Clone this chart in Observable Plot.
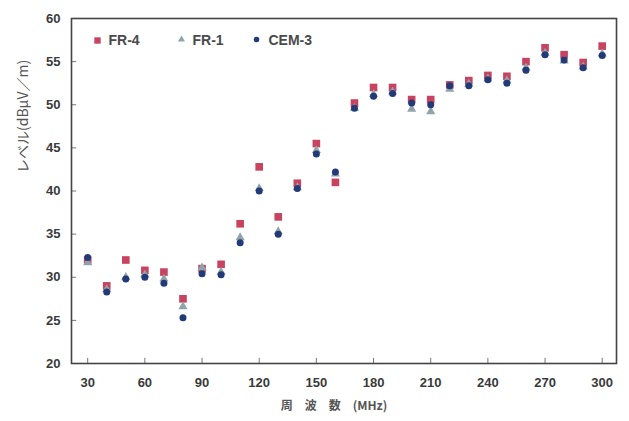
<!DOCTYPE html>
<html>
<head>
<meta charset="utf-8">
<script src="https://cdn.jsdelivr.net/npm/d3@7"></script>
<script src="https://cdn.jsdelivr.net/npm/@observablehq/plot@0.6"></script>
<style>
html,body{margin:0;padding:0;background:#fff;}
#chart{width:629px;height:421px;overflow:hidden;}
</style>
</head>
<body>
<div id="chart"></div>
<script>
const freqs = [30,40,50,60,70,80,90,100,110,120,130,140,150,160,170,180,190,200,210,220,230,240,250,260,270,280,290,300];
const fr4  = [32.0,29.0,32.0,30.8,30.6,27.5,31.0,31.5,36.2,42.8,37.0,40.9,45.5,41.0,50.2,52.0,52.0,50.6,50.6,52.3,52.8,53.4,53.3,55.0,56.6,55.8,54.9,56.8];
const fr1  = [31.7,28.6,30.0,30.3,29.8,26.6,31.1,30.6,34.6,40.3,35.3,40.4,44.7,42.0,49.6,51.2,51.5,49.5,49.2,51.8,52.4,53.0,52.8,54.3,56.0,55.1,54.4,55.9];
const cem3 = [32.3,28.3,29.8,30.0,29.3,25.3,30.4,30.3,34.0,40.0,35.0,40.3,44.3,42.2,49.6,51.0,51.3,50.2,50.0,52.2,52.2,52.9,52.5,54.0,55.8,55.2,54.3,55.7];
const xTicks = [30,60,90,120,150,180,210,240,270,300];
const yTicks = [20,25,30,35,40,45,50,55,60];
const seriesNames = ["FR-4","FR-1","CEM-3"];
const seriesColors = ["#c8435f","#8fa3ad","#233a78"];
const xLabel = "周　波　数　(MHz)";
const yLabel = "レベル(dBμV／m)";

const rows = (vals, name) => freqs.map((f,i)=>({f, v: vals[i], s: name}));
const d4 = rows(fr4, seriesNames[0]);
const d1 = rows(fr1, seriesNames[1]);
const d3 = rows(cem3, seriesNames[2]);

const tickFont = {fontFamily: "Liberation Sans, Arial, sans-serif", fontWeight: "bold", fontSize: 13, color: "#3a3a3a"};

const chart = Plot.plot({
  width: 629,
  height: 421,
  marginLeft: 71,
  marginRight: 13,
  marginTop: 18,
  marginBottom: 58,
  style: {background: "#fff", fontFamily: "Liberation Sans, Arial, sans-serif"},
  x: {domain: [21.5, 307.5]},
  y: {domain: [20, 60]},
  marks: [
    // inner ticks
    Plot.ruleX(xTicks, {x: d=>d, y1: 20, y2: 20.6, stroke: "#777", strokeWidth: 1}),
    Plot.ruleY(yTicks, {y: d=>d, x1: 21.5, x2: 24.2, stroke: "#777", strokeWidth: 1}),
    Plot.axisX(xTicks, {tickSize: 0, tickPadding: 14, ...tickFont, label: null}),
    Plot.axisY(yTicks, {tickSize: 0, tickPadding: 11, ...tickFont, label: null}),
    Plot.frame({stroke: "#444", strokeWidth: 1.6}),
    // data
    Plot.dot(d4, {x: "f", y: "v", symbol: "square", r: 4.3, fill: seriesColors[0], stroke: null}),
    Plot.dot(d1, {x: "f", y: "v", symbol: "triangle", r: 3.4, fill: seriesColors[1], stroke: null}),
    Plot.dot(d3, {x: "f", y: "v", symbol: "circle", r: 3.5, fill: seriesColors[2], stroke: null}),
    // legend
    Plot.dot([0], {frameAnchor: "top-left", dx: 26, dy: 22, symbol: "square", r: 3.6, fill: seriesColors[0]}),
    Plot.text([seriesNames[0]], {frameAnchor: "top-left", dx: 37, dy: 22, text: d=>d, textAnchor: "start", lineAnchor: "middle", fontSize: 14, fontWeight: "bold", fill: "#4a4a4a"}),
    Plot.dot([0], {frameAnchor: "top-left", dx: 110, dy: 21, symbol: "triangle", r: 2.6, fill: seriesColors[1]}),
    Plot.text([seriesNames[1]], {frameAnchor: "top-left", dx: 121, dy: 22, text: d=>d, textAnchor: "start", lineAnchor: "middle", fontSize: 14, fontWeight: "bold", fill: "#4a4a4a"}),
    Plot.dot([0], {frameAnchor: "top-left", dx: 185, dy: 21, symbol: "circle", r: 2.8, fill: seriesColors[2]}),
    Plot.text([seriesNames[2]], {frameAnchor: "top-left", dx: 197, dy: 22, text: d=>d, textAnchor: "start", lineAnchor: "middle", fontSize: 14, fontWeight: "bold", fill: "#4a4a4a"}),
    // axis titles
    Plot.text([xLabel], {frameAnchor: "bottom", dx: -10, dy: 46, text: d=>d, fontSize: 12, fill: "#555", fontFamily: "Noto Sans CJK JP, sans-serif", fontWeight: "bold"}),
    Plot.text([yLabel], {frameAnchor: "left", dx: -48, dy: -18, rotate: -90, text: d=>d, fontSize: 14, fill: "#555", fontFamily: "Noto Sans CJK JP, sans-serif"})
  ]
});
document.getElementById("chart").appendChild(chart);
</script>
</body>
</html>
